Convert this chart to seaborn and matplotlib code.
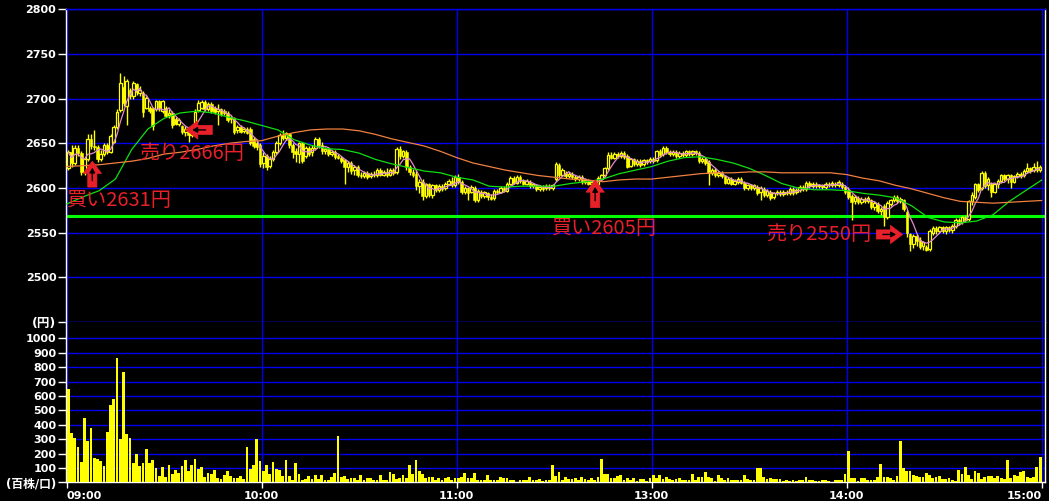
import numpy as np
import pandas as pd
import matplotlib
matplotlib.use('Agg')
import matplotlib.pyplot as plt
import seaborn as sns

# 1-minute bars, 09:00-11:30 and 12:30-15:00 (lunch break removed)
opens = [
    2622, 2640, 2628, 2645, 2639, 2618, 2632, 2655, 2647, 2646,
    2632, 2638, 2648, 2640, 2652, 2668, 2687, 2713, 2692, 2710,
    2703, 2716, 2706, 2706, 2690, 2690, 2689, 2688, 2697, 2686,
    2690, 2682, 2684, 2677, 2672, 2669, 2663, 2666, 2659, 2668,
    2687, 2690, 2696, 2688, 2694, 2690, 2686, 2688, 2686, 2684,
    2679, 2678, 2665, 2668, 2664, 2666, 2666, 2655, 2650, 2648,
    2628, 2636, 2625, 2633, 2640, 2650, 2659, 2656, 2660, 2648,
    2641, 2638, 2650, 2636, 2645, 2640, 2645, 2655, 2648, 2641,
    2644, 2638, 2640, 2636, 2634, 2631, 2623, 2628, 2620, 2624,
    2615, 2613, 2617, 2613, 2616, 2614, 2620, 2615, 2618, 2615,
    2620, 2618, 2644, 2636, 2640, 2624, 2618, 2616, 2602, 2607,
    2591, 2604, 2592, 2603, 2598, 2602, 2600, 2605, 2608, 2603,
    2612, 2607, 2595, 2600, 2596, 2600, 2586, 2596, 2591, 2594,
    2590, 2589, 2597, 2596, 2600, 2597, 2605, 2611, 2606, 2612,
    2608, 2605, 2607, 2602, 2603, 2599, 2601, 2600, 2602, 2600,
    2610, 2626, 2615, 2617, 2613, 2616, 2612, 2610, 2612, 2607,
    2608, 2605, 2606, 2604, 2610, 2614, 2622, 2637, 2634, 2638,
    2636, 2639, 2636, 2625, 2632, 2627, 2630, 2627, 2631, 2630,
    2633, 2631, 2641, 2638, 2645, 2640, 2638, 2640, 2636, 2639,
    2637, 2641, 2638, 2641, 2639, 2630, 2633, 2629, 2617, 2620,
    2614, 2617, 2613, 2606, 2610, 2605, 2607, 2610, 2606, 2600,
    2603, 2600, 2601, 2595, 2599, 2592, 2596, 2590, 2594, 2596,
    2593, 2596, 2594, 2599, 2595, 2598, 2601, 2599, 2606, 2602,
    2605, 2602, 2603, 2601, 2605, 2603, 2605, 2603, 2605, 2601,
    2598, 2591, 2585, 2589, 2584, 2588, 2585, 2586, 2579, 2582,
    2574, 2580, 2567, 2582, 2586, 2590, 2585, 2586, 2573, 2548,
    2537, 2546, 2542, 2535, 2534, 2532, 2550, 2555, 2552, 2556,
    2552, 2556, 2553, 2557, 2564, 2562, 2566, 2565, 2585, 2590,
    2604, 2600, 2617, 2603, 2605, 2596, 2604, 2608, 2614, 2610,
    2614, 2607, 2613, 2616, 2614, 2619, 2622, 2620, 2624, 2620,
]
closes = [
    2640, 2628, 2645, 2639, 2618, 2632, 2655, 2647, 2646, 2632,
    2638, 2648, 2640, 2658, 2668, 2685, 2718, 2695, 2720, 2703,
    2717, 2707, 2710, 2685, 2701, 2686, 2669, 2697, 2690, 2697,
    2681, 2684, 2670, 2672, 2676, 2663, 2666, 2659, 2668, 2685,
    2695, 2696, 2688, 2694, 2686, 2685, 2688, 2683, 2684, 2676,
    2677, 2663, 2668, 2663, 2666, 2662, 2650, 2647, 2646, 2627,
    2636, 2624, 2633, 2640, 2650, 2659, 2656, 2661, 2648, 2640,
    2638, 2650, 2630, 2645, 2638, 2645, 2655, 2648, 2641, 2644,
    2638, 2640, 2635, 2634, 2630, 2623, 2628, 2619, 2624, 2615,
    2613, 2617, 2612, 2616, 2614, 2620, 2615, 2618, 2614, 2620,
    2617, 2644, 2636, 2641, 2624, 2618, 2615, 2602, 2607, 2591,
    2604, 2592, 2603, 2598, 2602, 2599, 2605, 2608, 2603, 2612,
    2607, 2595, 2600, 2594, 2601, 2586, 2597, 2591, 2595, 2590,
    2588, 2597, 2595, 2600, 2597, 2605, 2611, 2606, 2612, 2608,
    2605, 2608, 2602, 2604, 2599, 2601, 2599, 2602, 2600, 2603,
    2627, 2615, 2620, 2613, 2616, 2612, 2610, 2612, 2607, 2609,
    2605, 2607, 2604, 2611, 2614, 2622, 2637, 2634, 2638, 2636,
    2639, 2635, 2624, 2632, 2627, 2630, 2626, 2631, 2629, 2633,
    2630, 2641, 2637, 2645, 2640, 2638, 2640, 2636, 2639, 2637,
    2641, 2638, 2641, 2639, 2630, 2633, 2628, 2617, 2620, 2614,
    2617, 2613, 2606, 2610, 2605, 2608, 2610, 2606, 2600, 2603,
    2600, 2603, 2594, 2600, 2592, 2597, 2589, 2594, 2596, 2593,
    2596, 2594, 2599, 2594, 2598, 2601, 2599, 2606, 2602, 2605,
    2602, 2603, 2601, 2605, 2603, 2606, 2603, 2607, 2601, 2595,
    2590, 2584, 2590, 2584, 2588, 2585, 2589, 2579, 2583, 2574,
    2577, 2567, 2583, 2586, 2590, 2585, 2588, 2576, 2550, 2537,
    2546, 2541, 2534, 2539, 2531, 2552, 2555, 2552, 2556, 2552,
    2556, 2553, 2558, 2564, 2561, 2567, 2564, 2585, 2592, 2604,
    2598, 2617, 2602, 2610, 2595, 2604, 2608, 2614, 2610, 2614,
    2607, 2613, 2616, 2613, 2619, 2622, 2619, 2624, 2620, 2623,
]
highs = [
    2642, 2648, 2648, 2648, 2641, 2634, 2660, 2660, 2665, 2648,
    2642, 2650, 2650, 2660, 2670, 2688, 2729, 2725, 2722, 2712,
    2720, 2718, 2714, 2708, 2703, 2692, 2690, 2699, 2699, 2699,
    2692, 2688, 2686, 2680, 2678, 2671, 2669, 2668, 2670, 2688,
    2698, 2699, 2698, 2696, 2696, 2692, 2694, 2690, 2688, 2686,
    2682, 2680, 2670, 2670, 2668, 2668, 2668, 2657, 2655, 2650,
    2640, 2638, 2636, 2642, 2653, 2662, 2665, 2663, 2662, 2650,
    2645, 2652, 2652, 2647, 2647, 2648, 2657, 2657, 2652, 2646,
    2646, 2642, 2642, 2638, 2636, 2633, 2630, 2630, 2626, 2626,
    2618, 2619, 2619, 2618, 2619, 2622, 2622, 2620, 2622, 2622,
    2622, 2646, 2647, 2643, 2642, 2626, 2621, 2620, 2610, 2610,
    2606, 2606, 2605, 2605, 2604, 2604, 2607, 2610, 2612, 2614,
    2616, 2609, 2602, 2601, 2603, 2602, 2599, 2598, 2597, 2596,
    2593, 2599, 2599, 2602, 2602, 2607, 2613, 2613, 2614, 2614,
    2610, 2610, 2609, 2606, 2605, 2603, 2603, 2604, 2604, 2605,
    2629, 2628, 2622, 2619, 2618, 2618, 2614, 2614, 2614, 2611,
    2610, 2609, 2608, 2613, 2616, 2624, 2640, 2640, 2640, 2640,
    2641, 2641, 2638, 2634, 2634, 2632, 2632, 2633, 2633, 2635,
    2635, 2643, 2644, 2647, 2647, 2642, 2642, 2642, 2641, 2641,
    2643, 2643, 2643, 2643, 2641, 2635, 2635, 2631, 2622, 2622,
    2619, 2619, 2615, 2612, 2612, 2610, 2612, 2612, 2608, 2605,
    2605, 2605, 2603, 2602, 2601, 2599, 2598, 2596, 2598, 2598,
    2598, 2598, 2601, 2601, 2600, 2603, 2603, 2608, 2608, 2607,
    2607, 2605, 2605, 2607, 2607, 2608, 2607, 2609, 2607, 2603,
    2601, 2593, 2592, 2591, 2590, 2590, 2591, 2588, 2585, 2584,
    2579, 2582, 2585, 2588, 2592, 2592, 2590, 2588, 2575, 2550,
    2549, 2548, 2545, 2541, 2536, 2554, 2557, 2558, 2558, 2558,
    2558, 2558, 2560, 2566, 2566, 2569, 2569, 2587, 2595, 2606,
    2606, 2619, 2619, 2612, 2607, 2606, 2610, 2616, 2616, 2616,
    2616, 2615, 2618, 2618, 2621, 2628, 2624, 2628, 2630, 2626,
]
lows = [
    2620, 2623, 2626, 2636, 2614, 2615, 2630, 2644, 2643, 2629,
    2630, 2636, 2638, 2639, 2650, 2666, 2685, 2692, 2670, 2700,
    2700, 2704, 2703, 2680, 2688, 2684, 2665, 2686, 2686, 2684,
    2679, 2678, 2667, 2670, 2669, 2660, 2658, 2652, 2657, 2666,
    2685, 2688, 2686, 2686, 2684, 2683, 2670, 2681, 2682, 2674,
    2673, 2660, 2661, 2661, 2662, 2660, 2648, 2645, 2643, 2624,
    2622, 2620, 2622, 2630, 2638, 2648, 2654, 2654, 2645, 2634,
    2629, 2628, 2628, 2634, 2636, 2636, 2643, 2645, 2638, 2638,
    2636, 2636, 2633, 2632, 2628, 2604, 2618, 2616, 2614, 2612,
    2611, 2611, 2610, 2611, 2612, 2612, 2613, 2613, 2612, 2613,
    2615, 2616, 2633, 2634, 2620, 2614, 2612, 2598, 2594, 2587,
    2589, 2590, 2589, 2596, 2596, 2597, 2598, 2603, 2601, 2601,
    2605, 2593, 2593, 2586, 2594, 2584, 2584, 2589, 2589, 2587,
    2586, 2587, 2593, 2594, 2595, 2595, 2603, 2604, 2604, 2606,
    2603, 2603, 2600, 2600, 2597, 2597, 2597, 2598, 2598, 2598,
    2608, 2612, 2613, 2611, 2611, 2610, 2608, 2608, 2605, 2605,
    2603, 2603, 2602, 2602, 2608, 2612, 2620, 2632, 2632, 2634,
    2634, 2633, 2622, 2623, 2625, 2625, 2624, 2625, 2627, 2628,
    2628, 2629, 2635, 2636, 2638, 2636, 2636, 2634, 2634, 2635,
    2635, 2636, 2636, 2637, 2628, 2628, 2626, 2603, 2615, 2612,
    2612, 2611, 2604, 2604, 2603, 2603, 2605, 2604, 2598, 2598,
    2598, 2598, 2592, 2587, 2590, 2590, 2587, 2588, 2592, 2591,
    2591, 2592, 2592, 2592, 2593, 2596, 2597, 2597, 2600, 2600,
    2600, 2600, 2599, 2599, 2601, 2601, 2601, 2601, 2599, 2593,
    2588, 2564, 2582, 2582, 2582, 2583, 2583, 2577, 2575, 2572,
    2570, 2558, 2565, 2580, 2584, 2583, 2583, 2574, 2545, 2530,
    2533, 2535, 2532, 2531, 2529, 2530, 2547, 2549, 2550, 2550,
    2549, 2551, 2550, 2555, 2559, 2560, 2562, 2563, 2581, 2588,
    2595, 2598, 2600, 2598, 2590, 2594, 2600, 2606, 2608, 2606,
    2600, 2606, 2611, 2611, 2612, 2617, 2617, 2618, 2618, 2618,
]
# volume in 100-share units
volume = [
    650, 340, 305, 245, 145, 445, 285, 375, 170, 160,
    150, 115, 350, 535, 580, 860, 300, 765, 335, 305,
    135, 200, 115, 135, 235, 135, 155, 100, 45, 105,
    40, 120, 55, 85, 65, 115, 155, 80, 120, 165,
    95, 105, 40, 65, 60, 85, 30, 25, 50, 80,
    45, 30, 30, 45, 25, 245, 90, 120, 300, 150,
    80, 120, 60, 140, 90, 85, 45, 155, 45, 20,
    135, 60, 20, 25, 45, 25, 50, 25, 50, 20,
    20, 40, 65, 320,
    35, 45, 25, 30, 30, 20, 50, 15, 30, 30,
    15, 20, 50, 15, 15, 70, 60, 25, 30, 50,
    30, 120, 60, 155, 80, 60, 30, 35, 35, 20,
    30, 20, 30, 35, 20, 30, 30, 35, 65, 30,
    30, 65, 15, 20, 20, 50, 15, 15, 15, 35,
    30, 30, 20, 20, 5, 15, 15, 15, 35, 20,
    15, 25, 10, 20, 20, 120, 45, 70, 15, 35,
    25, 25, 30, 15, 35, 25, 20, 30, 15, 35,
    160, 60, 60, 30, 30, 45, 50, 20, 30, 15, 30,
    10, 25, 25, 10, 30, 50, 30, 50, 25, 35,
    25, 15, 25, 30, 15, 15, 15, 55, 15, 35,
    35, 70, 35, 30, 10, 50, 30, 15, 30, 15, 20, 15,
    15, 50, 25, 15, 15, 100, 100, 35, 25, 30,
    25, 25, 25, 10, 15, 10, 15, 10, 15, 15,
    35, 15, 15, 10, 10, 15, 20, 10, 5, 15,
    15, 20, 55, 215, 30, 30, 10, 30, 30, 15,
    15, 15, 35, 125, 35, 35, 30, 15, 45, 285,
    100, 80, 80, 50, 45, 35, 35, 65, 50, 30,
    35, 45, 25, 25, 30, 15, 10, 85, 55, 105,
    50, 25, 80, 65, 25, 35, 45, 45, 30, 45, 30,
    25, 155, 30, 50, 45, 70, 80, 35, 30, 35,
    105, 175,
]

# moving averages read every 5 minutes
ma_minutes = list(range(0, 301, 5))
ma_mid = [
    2582, 2590, 2597, 2610, 2643, 2666, 2678, 2684, 2686, 2684,
    2679, 2675, 2670, 2665, 2654, 2648, 2644, 2643, 2639, 2632,
    2627, 2623, 2619, 2617, 2612, 2609, 2602, 2601, 2602, 2602,
    2602, 2605, 2607, 2610, 2616, 2620, 2624, 2630, 2634, 2635,
    2632, 2628, 2622, 2614, 2605, 2600, 2598, 2598, 2597, 2594,
    2592, 2589, 2580, 2567, 2562, 2561, 2563, 2570, 2585, 2597,
    2609,
]
ma_long = [
    2624, 2625, 2626, 2628, 2630, 2633, 2638, 2640, 2643, 2647,
    2650, 2652, 2653, 2658, 2662, 2665, 2666, 2666, 2664, 2660,
    2655, 2651, 2647, 2641, 2634, 2628, 2624, 2620, 2617, 2614,
    2612, 2610, 2609, 2607, 2609, 2610, 2610, 2612, 2614, 2616,
    2617, 2617, 2618, 2618, 2617, 2617, 2617, 2617, 2615, 2611,
    2608, 2603, 2599, 2594, 2589, 2585, 2584, 2583, 2584, 2585,
    2586,
]
ref_price = 2569

time_ticks = [0, 60, 120, 180, 240, 300]
time_labels = ['09:00', '10:00', '11:00', '13:00', '14:00', '15:00']
price_ticks = [2450, 2500, 2550, 2600, 2650, 2700, 2750, 2800]
price_labels = ['(円)', '2500', '2550', '2600', '2650', '2700', '2750', '2800']
vol_ticks = [0, 100, 200, 300, 400, 500, 600, 700, 800, 900, 1000]
vol_labels = ['(百株/口)', '100', '200', '300', '400', '500', '600', '700', '800', '900', '1000']

# trade notes: text, minute, price
notes = [('売り2666円', 22.3, 2639), ('買い2631円', 0.2, 2586),
         ('買い2605円', 149.4, 2555), ('売り2550円', 215.3, 2548)]
# arrows: (tail minute, tail price, tip minute, tip price)
arrows = [(7.9, 2601, 7.9, 2630), (44.8, 2665, 36.6, 2665),
          (162.6, 2578, 162.6, 2609), (249.1, 2548, 257.2, 2548)]

YEL = '#ffff00'
BLUE = '#0000ee'
RED = '#e8202a'

n = min(len(opens), len(closes), len(highs), len(lows), len(volume))
df = pd.DataFrame({'t': np.arange(n) + 0.5, 'open': opens[:n], 'close': closes[:n],
                   'high': highs[:n], 'low': lows[:n], 'volume': volume[:n]})
df['ma5'] = df['close'].rolling(5, min_periods=1).mean()

sns.set_theme(style='ticks', rc={'axes.facecolor': 'black', 'figure.facecolor': 'black',
                                 'patch.force_edgecolor': False})
plt.rcParams['font.family'] = ['DejaVu Sans', 'Noto Sans CJK JP']

fig = plt.figure(figsize=(10.49, 5.01), dpi=100, facecolor='black')
W, H = 1049, 501
ax = fig.add_axes([66 / W, 1 - 322 / H, 979 / W, (322 - 9.3) / H])
axv = fig.add_axes([66 / W, 1 - 482.4 / H, 979 / W, (482.4 - 322) / H])

# price panel
ax.axhline(ref_price, color='#00ff00', lw=2.2, zorder=2)
ax.vlines(df['t'], df['low'], df['high'], color=YEL, lw=1.0, zorder=3)
body_low = df[['open', 'close']].min(axis=1)
body_h = (df['close'] - df['open']).abs().clip(lower=1.0)
up = df['close'] > df['open']
ax.bar(df['t'][up], body_h[up], bottom=body_low[up], width=0.8,
       facecolor='black', edgecolor=YEL, linewidth=0.9, zorder=3.5)
ax.bar(df['t'][~up], body_h[~up], bottom=body_low[~up], width=0.8,
       facecolor=YEL, edgecolor=YEL, linewidth=0.4, zorder=3.5)
sns.lineplot(x=df['t'], y=df['ma5'], color='#e48ad6', lw=0.9, ax=ax, zorder=4)
sns.lineplot(x=ma_minutes, y=ma_mid, color='#10e010', lw=0.9, ax=ax, zorder=4)
sns.lineplot(x=ma_minutes, y=ma_long, color='#f08040', lw=0.9, ax=ax, zorder=4)

for txt, xm, yp in notes:
    ax.text(xm, yp, txt, color=RED, fontsize=14.5, ha='left', va='center',
            family=['Noto Sans CJK JP', 'DejaVu Sans'], zorder=6)
for x0, y0, x1, y1 in arrows:
    ax.annotate('', xy=(x1, y1), xytext=(x0, y0), zorder=6,
                arrowprops=dict(arrowstyle='simple,head_length=0.8,head_width=1.2,tail_width=0.6',
                                fc=RED, ec=RED, lw=0.5, mutation_scale=11, shrinkA=0, shrinkB=0))
    # small dark arrow drawn inside the red block arrow
    mx0, my0 = x0 + 0.25 * (x1 - x0), y0 + 0.25 * (y1 - y0)
    mx1, my1 = x0 + 0.75 * (x1 - x0), y0 + 0.75 * (y1 - y0)
    ax.annotate('', xy=(mx1, my1), xytext=(mx0, my0), zorder=7,
                arrowprops=dict(arrowstyle='-|>,head_length=0.35,head_width=0.2',
                                color='black', lw=1.0, mutation_scale=8, shrinkA=0, shrinkB=0))

ax.set_xlim(-0.2, 301)
ax.set_ylim(2450, 2800)
ax.set_xticks(time_ticks)
ax.set_yticks(price_ticks)
ax.set_yticklabels(price_labels)
ax.tick_params(axis='x', length=0, labelbottom=False)

# volume panel
sns.barplot(x=df['t'], y=df['volume'], native_scale=True, color=YEL, saturation=1,
            width=0.85, errorbar=None, linewidth=0, edgecolor=YEL, ax=axv, zorder=3)
axv.set_xlim(-0.2, 301)
axv.set_ylim(0, 1113)
axv.set_xticks(time_ticks)
axv.set_xticklabels(time_labels)
axv.set_yticks(vol_ticks)
axv.set_yticklabels(vol_labels)
axv.set_xlabel('')
axv.set_ylabel('')
ax.set_xlabel('')
ax.set_ylabel('')
for i, lbl in enumerate(axv.get_xticklabels()):
    lbl.set_ha('left' if i == 0 else ('right' if i == len(time_labels) - 1 else 'center'))

for a in (ax, axv):
    a.set_facecolor('black')
    a.set_axisbelow(True)
    a.grid(True, color=BLUE, lw=1.0)
    a.tick_params(axis='y', colors='white', length=6, width=1, pad=1, labelsize=8)
    for lbl in a.get_yticklabels() + a.get_xticklabels():
        lbl.set_fontweight('bold')
        lbl.set_color('white')
    a.spines['left'].set_color('white')
    a.spines['right'].set_color('white')
    for s in a.spines.values():
        s.set_linewidth(1.0)
ax.spines['top'].set_color(BLUE)
ax.spines['bottom'].set_color(BLUE)
axv.spines['top'].set_visible(False)
axv.spines['bottom'].set_color('white')
axv.tick_params(axis='x', colors='white', length=4, width=1, pad=2, labelsize=8)
# unit labels in the original are set a little larger
ax.get_yticklabels()[0].set_fontsize(9)
axv.get_yticklabels()[0].set_fontsize(8.5)

fig.savefig('out.png', dpi=100, facecolor='black')
